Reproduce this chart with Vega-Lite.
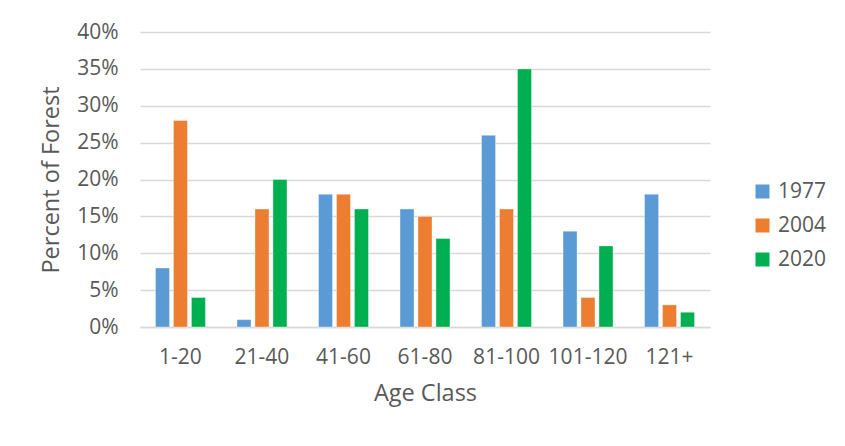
{
  "$schema": "https://vega.github.io/schema/vega-lite/v6.json",
  "width": 570,
  "height": 295,
  "autosize": "none",
  "padding": {"left": 140, "top": 32, "right": 135, "bottom": 119},
  "background": "white",
  "data": {
    "values": [
      {"age": "1-20", "year": "1977", "pct": 0.08},
      {"age": "1-20", "year": "2004", "pct": 0.28},
      {"age": "1-20", "year": "2020", "pct": 0.04},
      {"age": "21-40", "year": "1977", "pct": 0.01},
      {"age": "21-40", "year": "2004", "pct": 0.16},
      {"age": "21-40", "year": "2020", "pct": 0.20},
      {"age": "41-60", "year": "1977", "pct": 0.18},
      {"age": "41-60", "year": "2004", "pct": 0.18},
      {"age": "41-60", "year": "2020", "pct": 0.16},
      {"age": "61-80", "year": "1977", "pct": 0.16},
      {"age": "61-80", "year": "2004", "pct": 0.15},
      {"age": "61-80", "year": "2020", "pct": 0.12},
      {"age": "81-100", "year": "1977", "pct": 0.26},
      {"age": "81-100", "year": "2004", "pct": 0.16},
      {"age": "81-100", "year": "2020", "pct": 0.35},
      {"age": "101-120", "year": "1977", "pct": 0.13},
      {"age": "101-120", "year": "2004", "pct": 0.04},
      {"age": "101-120", "year": "2020", "pct": 0.11},
      {"age": "121+", "year": "1977", "pct": 0.18},
      {"age": "121+", "year": "2004", "pct": 0.03},
      {"age": "121+", "year": "2020", "pct": 0.02}
    ]
  },
  "mark": {"type": "bar", "stroke": "white", "strokeWidth": 0.6, "strokeOpacity": 0.6},
  "encoding": {
    "x": {
      "field": "age",
      "type": "nominal",
      "sort": null,
      "title": "Age Class",
      "scale": {"paddingInner": 0.387, "paddingOuter": 0.19},
      "axis": {
        "labelAngle": 0,
        "ticks": false,
        "domain": true,
        "domainColor": "#D9D9D9",
        "domainWidth": 1.5,
        "labelPadding": 19,
        "titlePadding": 14
      }
    },
    "xOffset": {
      "field": "year",
      "type": "nominal",
      "scale": {"paddingInner": 0.22, "paddingOuter": 0}
    },
    "y": {
      "field": "pct",
      "type": "quantitative",
      "title": "Percent of Forest",
      "scale": {"domain": [0, 0.4], "nice": false},
      "axis": {
        "format": ".0%",
        "values": [0, 0.05, 0.1, 0.15, 0.2, 0.25, 0.3, 0.35, 0.4],
        "ticks": false,
        "domain": false,
        "grid": true,
        "gridColor": "#D9D9D9",
        "gridWidth": 1.5,
        "labelPadding": 22,
        "titlePadding": 13
      }
    },
    "color": {
      "field": "year",
      "type": "nominal",
      "title": null,
      "scale": {"domain": ["1977", "2004", "2020"], "range": ["#5B9BD5", "#ED7D31", "#00B050"]},
      "legend": {
        "orient": "none",
        "legendX": 612,
        "legendY": 149,
        "symbolType": "square",
        "symbolSize": 196,
        "symbolStrokeWidth": 0,
        "rowPadding": 12,
        "labelOffset": 5
      }
    }
  },
  "config": {
    "font": "Open Sans",
    "view": {"stroke": null},
    "axis": {
      "labelFont": "Open Sans",
      "labelFontSize": 21,
      "labelColor": "#595959",
      "titleFont": "Open Sans",
      "titleFontSize": 23.5,
      "titleFontWeight": "normal",
      "titleColor": "#595959"
    },
    "legend": {
      "labelFont": "Open Sans",
      "labelFontSize": 21,
      "labelColor": "#595959"
    }
  }
}
